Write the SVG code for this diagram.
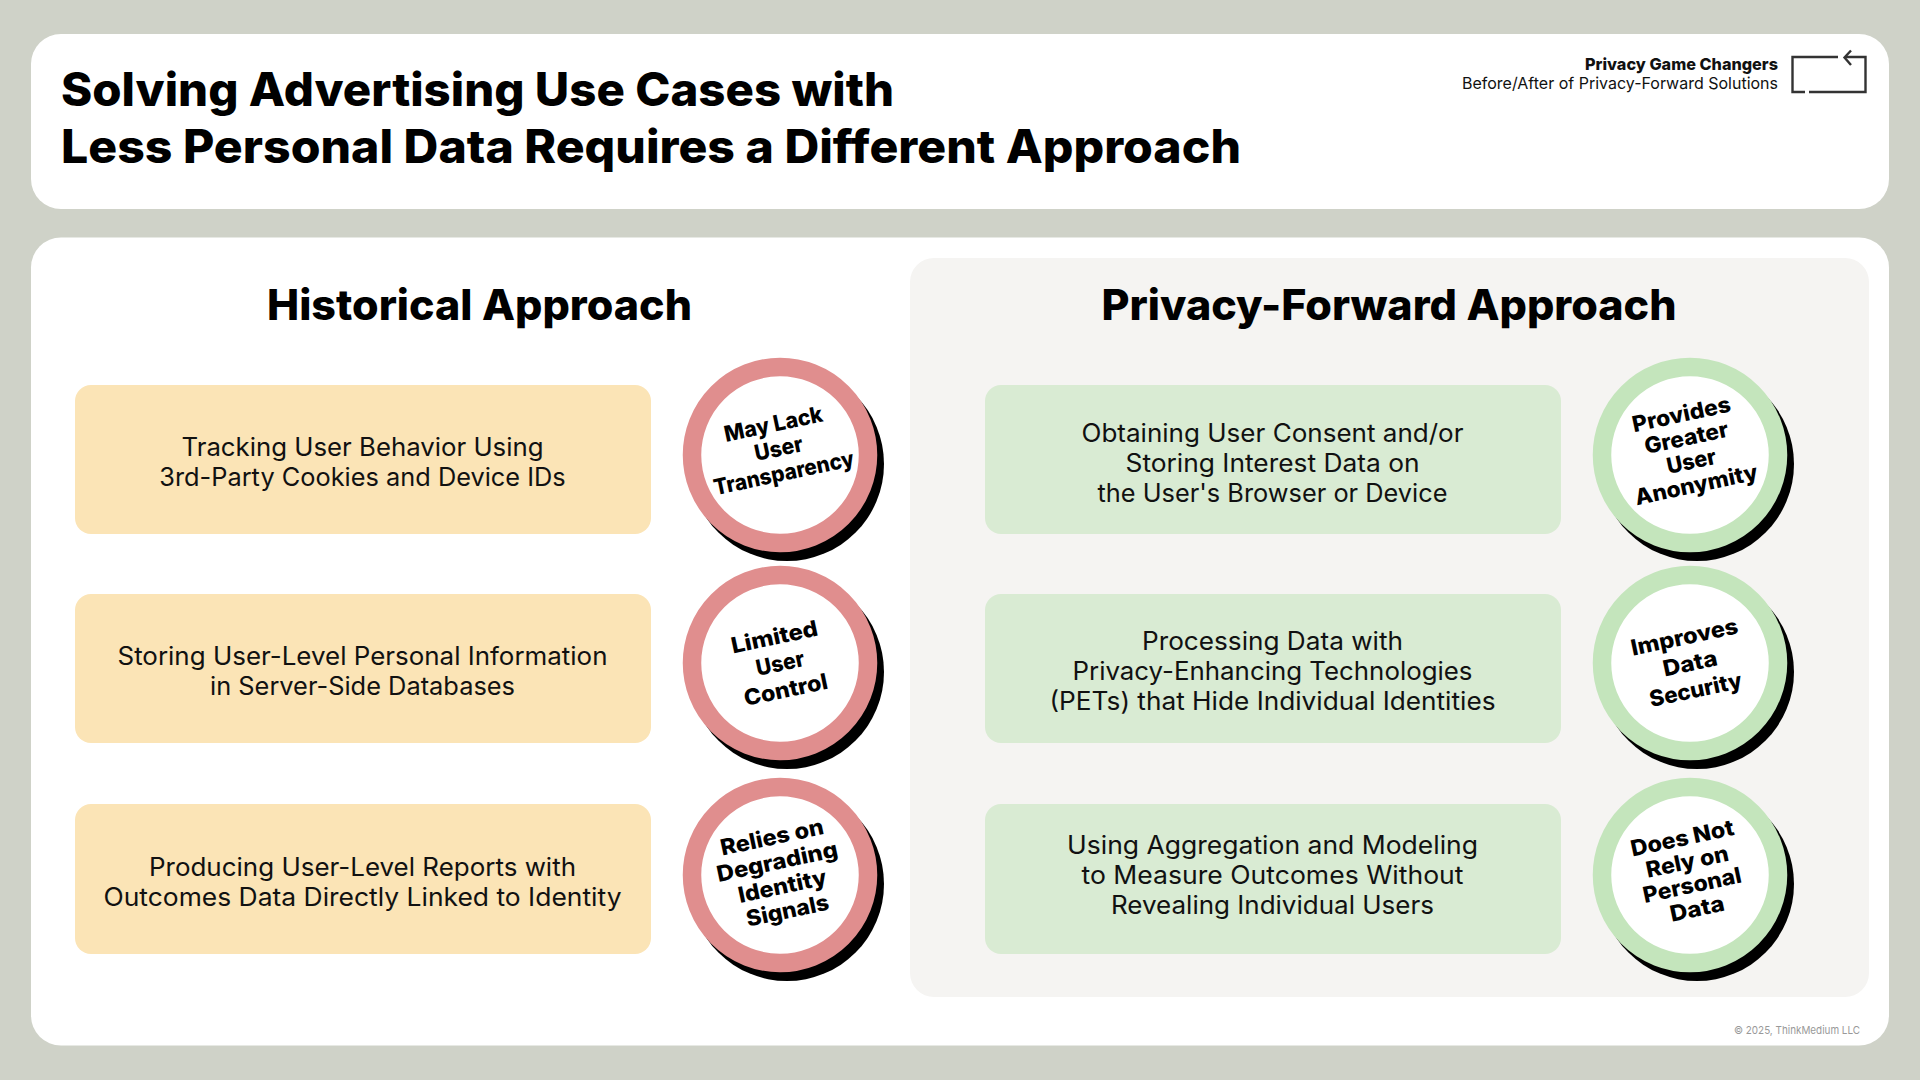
<svg xmlns="http://www.w3.org/2000/svg" width="1920" height="1080" viewBox="0 0 1920 1080">
<style>
text{font-family:"Inter","Liberation Sans",sans-serif;fill:#111}
.title{font-size:46px;font-weight:800;fill:#000}
.head{font-size:42px;font-weight:800;fill:#000;text-anchor:middle}
.body{font-size:25px;font-weight:400;text-anchor:middle}
.lab{font-size:22px;font-weight:800;fill:#000;text-anchor:middle}
.a{fill:#fbe4b6}.b{fill:#d9ebd3}
.sh{fill:#000}
.ri{fill:#fff;stroke:#e08e8e;stroke-width:18.5}
.gi{fill:#fff;stroke:#c4e5bc;stroke-width:18.5}
</style>
<rect width="1920" height="1080" fill="#cfd2c8"/>
<g id="header">
<rect x="31" y="34" width="1858" height="175" rx="30" fill="#fff"/>
<text class="title" x="61" y="106" textLength="833" lengthAdjust="spacingAndGlyphs">Solving Advertising Use Cases with</text>
<text class="title" x="61" y="163" textLength="1180" lengthAdjust="spacingAndGlyphs">Less Personal Data Requires a Different Approach</text>
<text x="1778" y="70" font-size="16.5" font-weight="800" text-anchor="end" fill="#000" textLength="193" lengthAdjust="spacingAndGlyphs">Privacy Game Changers</text>
<text x="1778" y="89" font-size="16.5" text-anchor="end" textLength="316" lengthAdjust="spacingAndGlyphs">Before/After of Privacy-Forward Solutions</text>
<g fill="none" stroke="#333" stroke-width="2.4">
<path d="M1838 57H1792.500V92H1805M1809 92H1865.500V57H1845"/>
<path d="M1851 50.500L1844.500 57.500L1851 65"/>
</g>
</g>
<rect id="main" x="31" y="237.500" width="1858" height="808" rx="30" fill="#fff"/>
<rect id="panel" x="910" y="258" width="959" height="739" rx="24" fill="#f5f4f2"/>
<text class="head" x="479.500" y="320" textLength="425" lengthAdjust="spacingAndGlyphs">Historical Approach</text>
<text class="head" x="1389" y="320" textLength="575" lengthAdjust="spacingAndGlyphs">Privacy-Forward Approach</text>
<g id="h1"><rect class="a" x="75" y="385" width="576" height="149" rx="16"/>
<text class="body" x="362.500" y="456" textLength="362" lengthAdjust="spacingAndGlyphs">Tracking User Behavior Using</text>
<text class="body" x="362.500" y="486" textLength="406.500" lengthAdjust="spacingAndGlyphs">3rd-Party Cookies and Device IDs</text></g>
<g id="h2"><rect class="a" x="75" y="594" width="576" height="149" rx="16"/>
<text class="body" x="362.500" y="665" textLength="490" lengthAdjust="spacingAndGlyphs">Storing User-Level Personal Information</text>
<text class="body" x="362.500" y="695" textLength="305" lengthAdjust="spacingAndGlyphs">in Server-Side Databases</text></g>
<g id="h3"><rect class="a" x="75" y="804" width="576" height="150" rx="16"/>
<text class="body" x="362.500" y="876" textLength="427" lengthAdjust="spacingAndGlyphs">Producing User-Level Reports with</text>
<text class="body" x="362.500" y="906" textLength="518" lengthAdjust="spacingAndGlyphs">Outcomes Data Directly Linked to Identity</text></g>
<g id="p1"><rect class="b" x="985" y="385" width="576" height="149" rx="16"/>
<text class="body" x="1272.500" y="442" textLength="382" lengthAdjust="spacingAndGlyphs">Obtaining User Consent and/or</text>
<text class="body" x="1272.500" y="472" textLength="294" lengthAdjust="spacingAndGlyphs">Storing Interest Data on</text>
<text class="body" x="1272.500" y="502" textLength="350" lengthAdjust="spacingAndGlyphs">the User's Browser or Device</text></g>
<g id="p2"><rect class="b" x="985" y="594" width="576" height="149" rx="16"/>
<text class="body" x="1272.500" y="650" textLength="261" lengthAdjust="spacingAndGlyphs">Processing Data with</text>
<text class="body" x="1272.500" y="680" textLength="400" lengthAdjust="spacingAndGlyphs">Privacy-Enhancing Technologies</text>
<text class="body" x="1272.500" y="710" textLength="446" lengthAdjust="spacingAndGlyphs">(PETs) that Hide Individual Identities</text></g>
<g id="p3"><rect class="b" x="985" y="804" width="576" height="150" rx="16"/>
<text class="body" x="1272.500" y="854" textLength="411" lengthAdjust="spacingAndGlyphs">Using Aggregation and Modeling</text>
<text class="body" x="1272.500" y="884" textLength="382" lengthAdjust="spacingAndGlyphs">to Measure Outcomes Without</text>
<text class="body" x="1272.500" y="914" textLength="323" lengthAdjust="spacingAndGlyphs">Revealing Individual Users</text></g>
<g id="c1"><circle class="sh" cx="787" cy="464" r="97"/><circle class="ri" cx="780" cy="455" r="88"/>
<g transform="rotate(-12 780 455)"><text class="lab" x="780" y="431" textLength="100" lengthAdjust="spacingAndGlyphs">May Lack</text><text class="lab" x="780" y="456" textLength="49" lengthAdjust="spacingAndGlyphs">User</text><text class="lab" x="780" y="481" textLength="143" lengthAdjust="spacingAndGlyphs">Transparency</text></g></g>
<g id="c2"><circle class="sh" cx="787" cy="672" r="97"/><circle class="ri" cx="780" cy="663" r="88"/>
<g transform="rotate(-12 780 663)"><text class="lab" x="780" y="644" textLength="88" lengthAdjust="spacingAndGlyphs">Limited</text><text class="lab" x="780" y="671" textLength="49" lengthAdjust="spacingAndGlyphs">User</text><text class="lab" x="780" y="698" textLength="85" lengthAdjust="spacingAndGlyphs">Control</text></g></g>
<g id="c3"><circle class="sh" cx="787" cy="884" r="97"/><circle class="ri" cx="780" cy="875" r="88"/>
<g transform="rotate(-12 780 875)"><text class="lab" x="780" y="844" textLength="105" lengthAdjust="spacingAndGlyphs">Relies on</text><text class="lab" x="780" y="869" textLength="123" lengthAdjust="spacingAndGlyphs">Degrading</text><text class="lab" x="780" y="894" textLength="90" lengthAdjust="spacingAndGlyphs">Identity</text><text class="lab" x="780" y="919" textLength="84" lengthAdjust="spacingAndGlyphs">Signals</text></g></g>
<g id="c4"><circle class="sh" cx="1697" cy="464" r="97"/><circle class="gi" cx="1690" cy="455" r="88"/>
<g transform="rotate(-12 1690 455)"><text class="lab" x="1690" y="421" textLength="100" lengthAdjust="spacingAndGlyphs">Provides</text><text class="lab" x="1690" y="445" textLength="85" lengthAdjust="spacingAndGlyphs">Greater</text><text class="lab" x="1690" y="469" textLength="50" lengthAdjust="spacingAndGlyphs">User</text><text class="lab" x="1690" y="493" textLength="125" lengthAdjust="spacingAndGlyphs">Anonymity</text></g></g>
<g id="c5"><circle class="sh" cx="1697" cy="672" r="97"/><circle class="gi" cx="1690" cy="663" r="88"/>
<g transform="rotate(-12 1690 663)"><text class="lab" x="1690" y="644" textLength="109" lengthAdjust="spacingAndGlyphs">Improves</text><text class="lab" x="1690" y="671" textLength="55" lengthAdjust="spacingAndGlyphs">Data</text><text class="lab" x="1690" y="698" textLength="94" lengthAdjust="spacingAndGlyphs">Security</text></g></g>
<g id="c6"><circle class="sh" cx="1697" cy="884" r="97"/><circle class="gi" cx="1690" cy="875" r="88"/>
<g transform="rotate(-12 1690 875)"><text class="lab" x="1690" y="845" textLength="105" lengthAdjust="spacingAndGlyphs">Does Not</text><text class="lab" x="1690" y="869" textLength="84" lengthAdjust="spacingAndGlyphs">Rely on</text><text class="lab" x="1690" y="893" textLength="100" lengthAdjust="spacingAndGlyphs">Personal</text><text class="lab" x="1690" y="917" textLength="55" lengthAdjust="spacingAndGlyphs">Data</text></g></g>
<text x="1860" y="1034" font-size="11" text-anchor="end" style="fill:#999" textLength="126" lengthAdjust="spacingAndGlyphs">© 2025, ThinkMedium LLC</text>
</svg>
